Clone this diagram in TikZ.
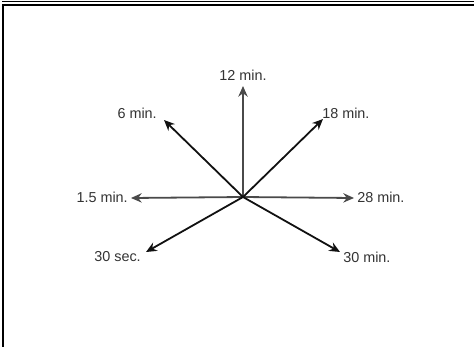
\documentclass[tikz,border=0pt]{standalone}
\usepackage{fontspec}
\setmainfont{Liberation Sans}
\usetikzlibrary{arrows.meta}
\definecolor{txt}{HTML}{333333}
\definecolor{ln}{HTML}{111111}
\definecolor{lg}{HTML}{4A4A4A}
\begin{document}
\begin{tikzpicture}[x=0.75pt,y=-0.75pt,
  lbl/.style={inner sep=0pt,text=txt,font=\fontsize{10.8}{13}\selectfont},
  arr/.style={line width=1.35pt,draw=ln,-{Stealth[length=8pt,width=7pt]}},
  garr/.style={arr,draw=lg}]
\useasboundingbox (0,0) rectangle (474,347);
% frame
\draw[line width=1pt] (2,1.5) -- (474,1.5);
\draw[line width=2pt] (2,5) -- (474,5);
\draw[line width=2.2pt] (3,4) -- (3,347);
% center and tips
\coordinate (c) at (243,197);
\coordinate (t12) at (243,86);
\coordinate (t6) at (164,120);
\coordinate (t18) at (323,119);
\coordinate (t15) at (131,198);
\coordinate (t28) at (354,198);
\coordinate (t30s) at (146,252);
\coordinate (t30m) at (340,252);
% labels
\node[lbl] (l12) at (243,75) {12 min.};
\node[lbl,anchor=east] (l6) at (157,113) {6 min.};
\node[lbl,anchor=west] (l18) at (322,113) {18 min.};
\node[lbl,anchor=east] (l15) at (128,197) {1.5 min.};
\node[lbl,anchor=west] (l28) at (357,197) {28 min.};
\node[lbl,anchor=east] (l30s) at (141,257) {30 sec.};
\node[lbl,anchor=west] (l30m) at (343,257) {30 min.};
% arrows
\draw[garr] (c) -- (t12);
\draw[garr] (c) -- (t15);
\draw[garr] (c) -- (t28);
\draw[arr] (c) -- (t6);
\draw[arr] (c) -- (t18);
\draw[arr] (c) -- (t30s);
\draw[arr] (c) -- (t30m);
\end{tikzpicture}
\end{document}
